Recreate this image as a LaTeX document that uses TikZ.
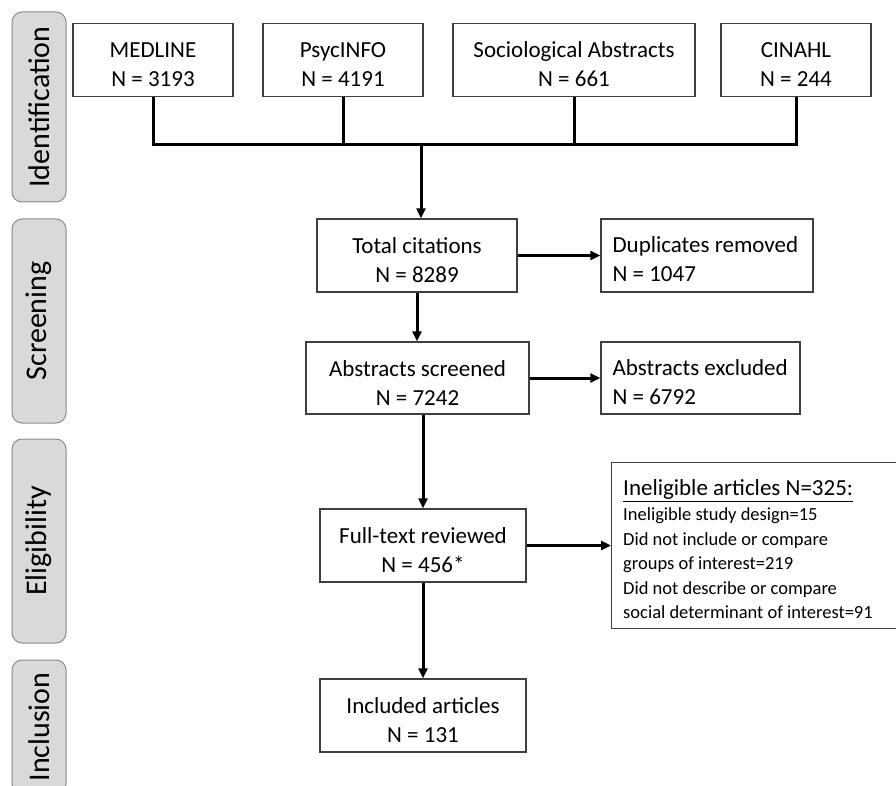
\documentclass[tikz,border=0pt]{standalone}
\usepackage{fontspec}
\setmainfont{Carlito}
\usetikzlibrary{arrows.meta}
\definecolor{bandfill}{HTML}{D9D9D9}
\definecolor{bandline}{HTML}{8C8C8C}
\definecolor{boxline}{HTML}{404040}
\newcommand\lowerstrut{\rule{0pt}{25pt}}
\begin{document}
\begin{tikzpicture}[x=1pt,y=-1pt,
  band/.style={draw=bandline, fill=bandfill, rounded corners=10pt, line width=1pt, minimum width=54pt, inner sep=0pt},
  bandlabel/.style={rotate=90, font=\fontsize{30}{36}\selectfont, inner sep=0pt},
  box/.style={draw=boxline, line width=1.3pt, minimum height=73pt, align=center, font=\fontsize{23}{29}\selectfont, inner sep=0pt},
  frame/.style={draw=boxline, line width=1.3pt, inner sep=0pt},
  ltext/.style={anchor=west, align=left, font=\fontsize{23}{29}\selectfont, inner sep=0pt},
  conn/.style={line width=3pt},
  arr/.style={line width=3pt, -{Triangle[length=10pt,width=9pt]}}
]
\useasboundingbox (0,0) rectangle (896,786);
\clip (0,0) rectangle (896,786);

% phase bands
\node[band, minimum height=190pt] (b1) at (39,107) {};
\node[bandlabel] (l1) at (b1.center) {Identification};
\node[band, minimum height=204pt] (b2) at (39,321) {};
\node[bandlabel] (l2) at (b2.center) {Screening};
\node[band, minimum height=204pt] (b3) at (39,541) {};
\node[bandlabel] (l3) at (b3.center) {Eligibility};
\node[band, minimum height=134pt] (b4) at (39,727) {};
\node[bandlabel] (l4) at (b4.center) {Inclusion};

% identification boxes
\node[box, minimum width=160pt] (med) at (153,60) {\lowerstrut MEDLINE\\N = 3193};
\node[box, minimum width=160pt] (psy) at (343,60) {\lowerstrut PsycINFO\\N = 4191};
\node[box, minimum width=242pt] (soc) at (574,60) {\lowerstrut Sociological Abstracts\\N = 661};
\node[box, minimum width=150pt] (cin) at (796,60) {\lowerstrut CINAHL\\N = 244};

% screening
\node[box, minimum width=200pt] (tot) at (417,255.5) {\lowerstrut Total citations\\N = 8289};
\node[frame, minimum width=212pt, minimum height=73pt] (dup) at (707,255.5) {};
\node[ltext] (duptext) at ([xshift=12pt,yshift=-4pt]dup.west) {Duplicates removed\\N = 1047};
\node[box, minimum width=223pt, minimum height=72pt] (abs) at (417.5,378) {\lowerstrut Abstracts screened\\N = 7242};
\node[frame, minimum width=199pt, minimum height=72pt] (exc) at (700.5,378) {};
\node[ltext] (exctext) at ([xshift=12pt,yshift=-4pt]exc.west) {Abstracts excluded\\N = 6792};

% eligibility
\node[box, minimum width=206pt] (ft) at (423,545.5) {\lowerstrut Full-text reviewed\\N = 456*};
\node[frame, anchor=north west, minimum width=340pt, minimum height=166pt] (inel) at (611,462) {};
\node[anchor=west, align=left, inner sep=0pt, font=\fontsize{18.5}{24.4}\selectfont] (ineltext) at (623,549)
  {{\fontsize{23}{27}\selectfont\underline{Ineligible articles N=325:}}\\[1pt]
   Ineligible study design=15\\
   Did not include or compare\\
   groups of interest=219\\
   Did not describe or compare\\
   social determinant of interest=91};

% inclusion
\node[box, minimum width=206pt] (inc) at (423,715.5) {\lowerstrut Included articles\\N = 131};

% connectors
\coordinate (hub) at (421,145);
\draw[conn] (med.south) -- (med.south |- hub) -- (cin.south |- hub) -- (cin.south);
\draw[conn] (psy.south) -- (psy.south |- hub);
\draw[conn] (soc.south) -- (soc.south |- hub);
\draw[arr] (hub) -- (hub |- tot.north);
\draw[arr] (tot.east) -- (dup.west);
\draw[arr] (tot.south) -- (tot.south |- abs.north);
\draw[arr] (abs.east) -- (exc.west);
\draw[arr] (abs.south -| ft.north) -- (ft.north);
\draw[arr] (ft.east) -- (ft.east -| inel.west);
\draw[arr] (ft.south) -- (inc.north);
\end{tikzpicture}
\end{document}
